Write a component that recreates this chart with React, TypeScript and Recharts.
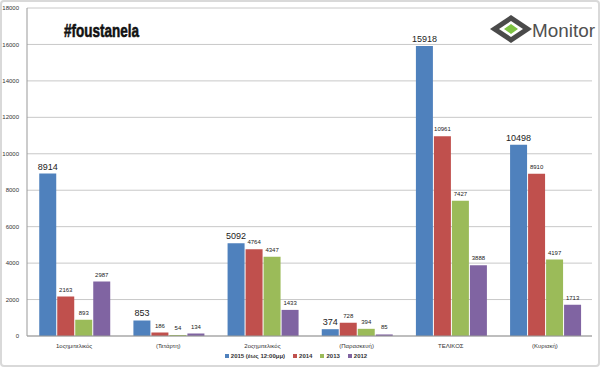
import { BarChart, Bar, XAxis, YAxis, CartesianGrid, LabelList, Legend } from "recharts";

const categories = ["1οςημιτελικός", "(Τετάρτη)", "2οςημιτελικός", "(Παρασκευή)", "ΤΕΛΙΚΟΣ", "(Κυριακή)"];
const series2015 = [8914, 853, 5092, 374, 15918, 10498];
const series2014 = [2163, 186, 4764, 728, 10961, 8910];
const series2013 = [893, 54, 4347, 394, 7427, 4197];
const series2012 = [2987, 134, 1433, 85, 3888, 1713];
const yTicks = [0, 2000, 4000, 6000, 8000, 10000, 12000, 14000, 16000, 18000];

const seriesInfo = [
  { key: "s2015", name: "2015 (έως 12:00μμ)", color: "#4F81BD" },
  { key: "s2014", name: "2014", color: "#C0504D" },
  { key: "s2013", name: "2013", color: "#9BBB59" },
  { key: "s2012", name: "2012", color: "#8064A2" },
];

const data = categories.map((name, i) => ({
  name,
  s2015: series2015[i],
  s2014: series2014[i],
  s2013: series2013[i],
  s2012: series2012[i],
}));

const font = "'Liberation Sans', Arial, sans-serif";

function LegendContent() {
  return (
    <div style={{ display: "flex", justifyContent: "center", gap: 8, paddingTop: 5, fontFamily: font, fontSize: 6, fontWeight: "bold", color: "#333" }}>
      {seriesInfo.map((s) => (
        <div key={s.key} style={{ display: "flex", alignItems: "center", gap: 2 }}>
          <span style={{ width: 4, height: 4, background: s.color, display: "inline-block" }} />
          <span>{s.name}</span>
        </div>
      ))}
    </div>
  );
}

function MonitorLogo() {
  return (
    <svg width={108} height={34} style={{ position: "absolute", left: 488, top: 9 }}>
      <polygon points="0,18 21,4 42,18 21,32" fill="#4a4a4a" />
      <polygon points="9,18 21,10 33,18 21,26" fill="#fff" />
      <polygon points="14,18 21,13 28,18 21,23" fill="#7dc242" />
      <text
        x={42}
        y={26}
        fontFamily="'Liberation Sans', Arial, sans-serif"
        fontSize={19}
        fill="#505050"
        textLength={63}
        lengthAdjust="spacingAndGlyphs"
      >
        Monitor
      </text>
    </svg>
  );
}

export default function App() {
  return (
    <div
      style={{
        position: "absolute",
        left: 0,
        top: 0,
        width: 600,
        height: 367,
        background: "#fff",
        boxSizing: "border-box",
        border: "2px solid #d9d9d9",
        borderRadius: 4,
        overflow: "hidden",
      }}
    >
      <div style={{ position: "absolute", left: -2, top: -2 }}>
        <BarChart
          width={600}
          height={367}
          data={data}
          margin={{ top: 8, right: 8, left: 0, bottom: 0 }}
          barCategoryGap="13%"
          barGap={1}
        >
          <CartesianGrid vertical={false} stroke="#c8c8c8" />
          <XAxis
            dataKey="name"
            tick={{ fontSize: 6, fill: "#333", fontFamily: font }}
            tickLine={false}
            axisLine={{ stroke: "#999" }}
            height={12}
            interval={0}
          />
          <YAxis
            ticks={yTicks}
            domain={[0, 18000]}
            tick={{ fontSize: 6, fill: "#333", fontFamily: font }}
            tickLine={false}
            axisLine={{ stroke: "#999" }}
            width={27}
          />
          <Legend content={<LegendContent />} verticalAlign="bottom" height={19} />
          {seriesInfo.map((s, idx) => (
            <Bar key={s.key} dataKey={s.key} name={s.name} fill={s.color} isAnimationActive={false}>
              <LabelList
                dataKey={s.key}
                position="top"
                offset={idx === 0 ? 4 : 5}
                style={{ fontSize: idx === 0 ? 9 : 6, fill: "#222", fontFamily: font }}
              />
            </Bar>
          ))}
        </BarChart>
      </div>
      <svg width={150} height={34} style={{ position: "absolute", left: 60, top: 12 }}>
        <text
          x={2}
          y={23}
          fontFamily="'Liberation Sans', Arial, sans-serif"
          fontWeight="bold"
          fontSize={19}
          fill="#111"
          stroke="#111"
          strokeWidth={0.6}
          textLength={75}
          lengthAdjust="spacingAndGlyphs"
        >
          #foustanela
        </text>
      </svg>
      <MonitorLogo />
    </div>
  );
}
